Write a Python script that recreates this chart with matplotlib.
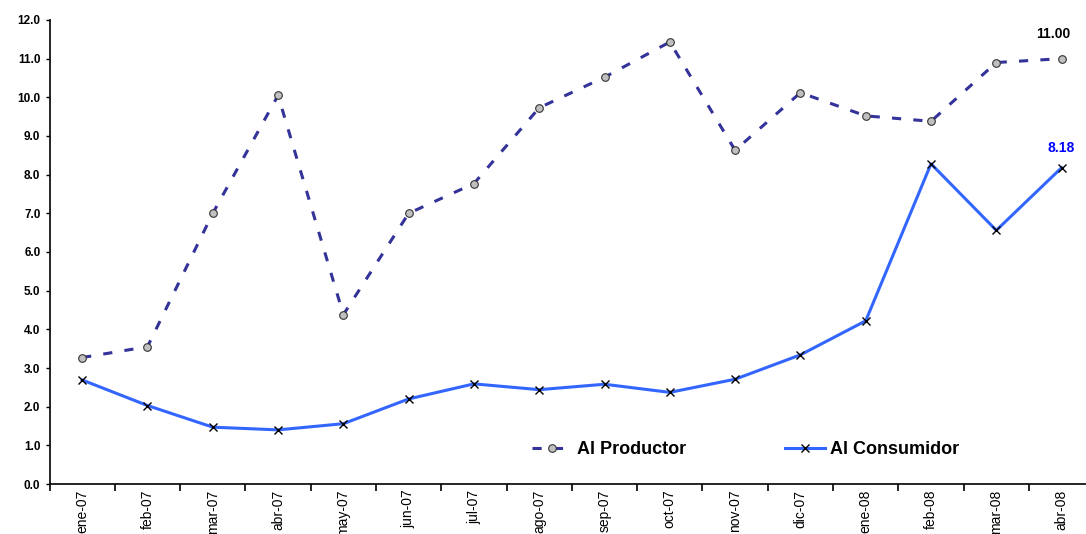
import numpy as np
import matplotlib
matplotlib.use("Agg")
import matplotlib.pyplot as plt
from matplotlib.ticker import FixedLocator

plt.rcParams["font.family"] = ["Liberation Sans", "DejaVu Sans"]

meses = ["ene-07", "feb-07", "mar-07", "abr-07", "may-07", "jun-07", "jul-07", "ago-07",
         "sep-07", "oct-07", "nov-07", "dic-07", "ene-08", "feb-08", "mar-08", "abr-08"]
productor = [3.27, 3.55, 7.00, 10.05, 4.38, 7.00, 7.77, 9.73,
             10.52, 11.43, 8.63, 10.12, 9.52, 9.38, 10.90, 11.00]
consumidor = [2.69, 2.03, 1.47, 1.40, 1.56, 2.20, 2.59, 2.44,
              2.58, 2.37, 2.71, 3.34, 4.22, 8.28, 6.56, 8.18]

C_PROD = "#333399"; C_CONS = "#3366FF"

fig = plt.figure(figsize=(10.86, 5.34), dpi=100)
ax = fig.add_axes([0.0456, 0.0936, 0.962, 0.869])
x = np.arange(len(meses))

ax.plot(x, productor, ls=(0, (3, 4)), color=C_PROD, lw=2.2, marker="o", ms=5.5,
        mfc="#c0c0c0", mec="#333333", mew=0.8, label="Al Productor")
ax.plot(x, consumidor, ls="-", color=C_CONS, lw=2.2, marker="x", ms=6,
        mec="black", mew=1.0, label="Al Consumidor")

ax.annotate("%.2f" % productor[-1], (x[-1], productor[-1]), xytext=(-6, 15),
            textcoords="offset points", ha="center", fontsize=10, fontweight="bold",
            color="black")
ax.annotate("%.2f" % consumidor[-1], (x[-1], consumidor[-1]), xytext=(0, 11),
            textcoords="offset points", ha="center", fontsize=10, fontweight="bold",
            color="#0000FF")

ax.set_xlim(-0.5, len(meses) - 0.5)
ax.set_ylim(0, 12)
ax.set_yticks(np.arange(0, 13, 1))
ax.set_yticklabels(["%.1f" % v for v in np.arange(0, 13, 1)], fontsize=8.5, fontweight="bold")
ax.set_xticks(x)
ax.set_xticklabels(meses, rotation=90, fontsize=10, va="top")
ax.tick_params(axis="x", which="major", length=0, pad=4)
ax.xaxis.set_minor_locator(FixedLocator(np.arange(-0.5, len(meses), 1)))
ax.tick_params(axis="x", which="minor", length=5, width=1.2, direction="out")
ax.tick_params(axis="y", length=3, width=1, direction="out")
for s in ["top", "right"]:
    ax.spines[s].set_visible(False)
for s in ["left", "bottom"]:
    ax.spines[s].set_linewidth(1.2)

ax.legend(loc="lower left", bbox_to_anchor=(0.446, 0.02), ncol=2, frameon=False,
          prop={"weight": "bold", "size": 13}, columnspacing=5.5, handlelength=2.2,
          handletextpad=0.3)

fig.savefig("out.png", dpi=100)
